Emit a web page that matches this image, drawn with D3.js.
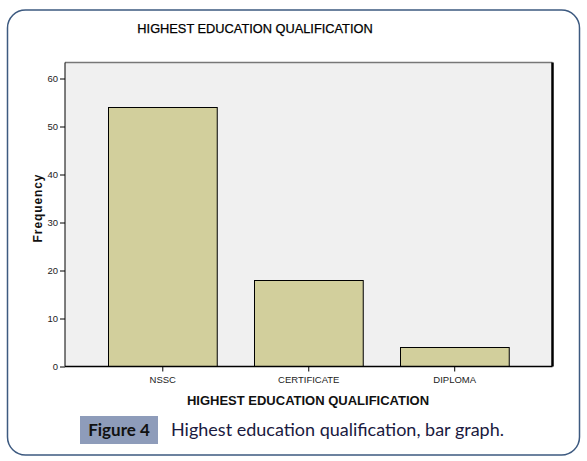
<!DOCTYPE html>
<html><head><meta charset="utf-8">
<script src="https://cdn.jsdelivr.net/npm/d3@7"></script>
<style>body{margin:0;background:#fff}svg{display:block}</style>
</head><body>
<script>
const categories = ["NSSC", "CERTIFICATE", "DIPLOMA"];
const frequency = [54, 18, 4];
const yTicks = [0, 10, 20, 30, 40, 50, 60];
const chartTitle = "HIGHEST EDUCATION QUALIFICATION";
const xTitle = "HIGHEST EDUCATION QUALIFICATION";
const yTitle = "Frequency";
const figLabel = "Figure 4";
const caption = "Highest education qualification, bar graph.";

const W = 587, H = 461;
const svg = d3.select("body").append("svg").attr("width", W).attr("height", H);

// outer rounded frame
svg.append("rect").attr("x", 7.5).attr("y", 10).attr("width", 572).attr("height", 445)
  .attr("rx", 18).attr("fill", "#fff").attr("stroke", "#3d5a80").attr("stroke-width", 1.5);

const plot = {l: 65, r: 552.5, t: 62.5, b: 366.5};
const x = d3.scaleBand().domain(categories).range([plot.l, plot.r]).paddingInner(0.255).paddingOuter(0.2975);
const y = d3.scaleLinear().domain([0, 60]).range([366.5, 78.5]);

svg.append("text").attr("x", 255).attr("y", 33).attr("text-anchor", "middle")
  .attr("font-family", "Liberation Sans, Arial, sans-serif").attr("font-size", 12.8)
  .attr("fill", "#000").attr("stroke", "#000").attr("stroke-width", 0.25).text(chartTitle);

// plot background
svg.append("rect").attr("x", plot.l).attr("y", plot.t).attr("width", plot.r - plot.l).attr("height", plot.b - plot.t)
  .attr("fill", "#f0f0f0");
svg.append("line").attr("x1", plot.l).attr("x2", plot.r).attr("y1", plot.t).attr("y2", plot.t).attr("stroke", "#777").attr("stroke-width", 1.5);
svg.append("line").attr("x1", plot.r).attr("x2", plot.r).attr("y1", plot.t).attr("y2", plot.b).attr("stroke", "#000").attr("stroke-width", 2.5);

// bars
svg.append("g").selectAll("rect").data(categories).join("rect")
  .attr("x", d => Math.round(x(d)) + 0.5)
  .attr("y", (d, i) => Math.round(y(frequency[i])) + 0.5)
  .attr("width", x.bandwidth())
  .attr("height", (d, i) => y(0) - Math.round(y(frequency[i])) - 0.5)
  .attr("fill", "#d2cf9c").attr("stroke", "#000").attr("stroke-width", 1);

// axes
const yAxis = svg.append("g").attr("transform", `translate(${plot.l},0)`)
  .call(d3.axisLeft(y).tickValues(yTicks).tickSize(5).tickPadding(2));
yAxis.select(".domain").attr("d", `M0,${plot.t}V${plot.b}`).attr("stroke", "#000");
yAxis.selectAll("text").attr("font-family", "Liberation Sans, Arial, sans-serif").attr("font-size", 9.5).attr("fill", "#222");

const xAxis = svg.append("g").attr("transform", `translate(0,${plot.b})`)
  .call(d3.axisBottom(x).tickSize(5).tickPadding(5));
xAxis.select(".domain").attr("d", `M${plot.l},0H${plot.r}`).attr("stroke", "#000").attr("stroke-width", 1.5);
xAxis.selectAll("text").attr("font-family", "Liberation Sans, Arial, sans-serif").attr("font-size", 9.5).attr("fill", "#222");

svg.append("text").attr("x", 308).attr("y", 405).attr("text-anchor", "middle")
  .attr("font-family", "Liberation Sans, Arial, sans-serif").attr("font-size", 13).attr("font-weight", "bold")
  .attr("fill", "#111").text(xTitle);
svg.append("text").attr("transform", "translate(42,208) rotate(-90)").attr("text-anchor", "middle")
  .attr("font-family", "Liberation Sans, Arial, sans-serif").attr("font-size", 12).attr("font-weight", "bold")
  .attr("letter-spacing", 0.9).attr("fill", "#111").text(yTitle);

// caption
svg.append("rect").attr("x", 80).attr("y", 416).attr("width", 78).attr("height", 28).attr("fill", "#8e9cba");
svg.append("text").attr("x", 119).attr("y", 436).attr("text-anchor", "middle")
  .attr("font-family", "Lato, sans-serif").attr("font-size", 17).attr("font-weight", "bold")
  .attr("fill", "#111").text(figLabel);
svg.append("text").attr("x", 171).attr("y", 436)
  .attr("font-family", "Lato, sans-serif").attr("font-size", 18)
  .attr("fill", "#1a1a40").text(caption);
</script>
</body></html>
